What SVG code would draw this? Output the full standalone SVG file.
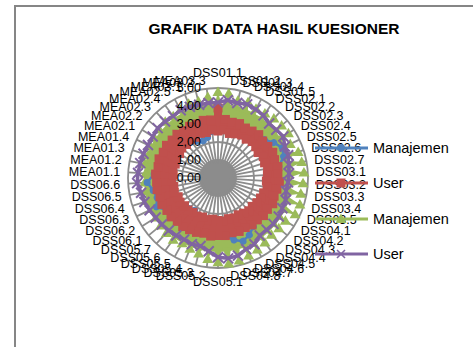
<svg xmlns="http://www.w3.org/2000/svg" xmlns:xlink="http://www.w3.org/1999/xlink" width="473" height="347" viewBox="0 0 473 347">
<style>
text{font-family:"Liberation Sans",Arial,sans-serif;fill:#000}
.lbl{font-size:12.5px}
.leg{font-size:14.5px}
.title{font-size:15.5px;font-weight:bold}
.grid{fill:none;stroke:#8c8c8c;stroke-width:1.8}
.gr circle{fill:none;stroke:#9BBB59;stroke-width:18}
.gr path{fill:#9BBB59}
.gr use{fill:#9BBB59}
.bl path{fill:none;stroke:#4F81BD;stroke-width:2.5;stroke-linecap:round}
.bl circle{fill:#4F81BD}
.rd circle{fill:none;stroke:#C0504D;stroke-width:7}
.rd path{fill:none;stroke:#C0504D;stroke-width:8}
.rd use{fill:#C0504D}
.pu path{fill:none;stroke:#8064A2;stroke-width:3.5;stroke-linecap:round}
.pu use{fill:none;stroke:#8064A2;stroke-width:2}
</style>
<defs>
<rect id="sq" x="-4.5" y="-4.5" width="9" height="9"/>
<polygon id="tri" points="0,-5.5 5.5,4 -5.5,4"/>
<path id="xm" d="M-5,-5L5,5M5,-5L-5,5"/>
<path id="xl" d="M-4,-4L4,4M4,-4L-4,4"/>
</defs>
<rect x="0" y="0" width="473" height="347" fill="#fff"/>
<rect id="frame" x="15" y="6" width="480" height="370" fill="#fff" stroke="#868686" stroke-width="2"/>
<text class="title" x="274" y="34.3" text-anchor="middle">GRAFIK DATA HASIL KUESIONER</text>
<g id="plot" transform="translate(218,178)">
<g id="grid" class="grid">
<circle r="17" fill="#8c8c8c"/>
<circle r="18"/><circle r="36"/><circle r="54"/><circle r="72"/><circle r="90"/>
<path d="M0,-90L0,90M11.28,-89.29L-11.28,89.29M22.38,-87.17L-22.38,87.17M33.13,-83.68L-33.13,83.68M43.36,-78.87L-43.36,78.87M52.9,-72.81L-52.9,72.81M61.61,-65.61L-61.61,65.61M69.35,-57.37L-69.35,57.37M75.99,-48.22L-75.99,48.22M81.43,-38.32L-81.43,38.32M85.6,-27.81L-85.6,27.81M88.41,-16.86L-88.41,16.86M89.82,-5.65L-89.82,5.65M89.82,5.65L-89.82,-5.65M88.41,16.86L-88.41,-16.86M85.6,27.81L-85.6,-27.81M81.43,38.32L-81.43,-38.32M75.99,48.22L-75.99,-48.22M69.35,57.37L-69.35,-57.37M61.61,65.61L-61.61,-65.61M52.9,72.81L-52.9,-72.81M43.36,78.87L-43.36,-78.87M33.13,83.68L-33.13,-83.68M22.38,87.17L-22.38,-87.17M11.28,89.29L-11.28,-89.29"/>
</g>
<g id="series-manajemen-2" class="gr">
<circle r="65"/>
<g transform="rotate(0)"><path d="M-4.5,-70L0,-86.1L4.5,-70Z"/><use href="#tri" transform="translate(0,-86.1) rotate(0)"/></g>
<g transform="rotate(7.2)"><path d="M-4.5,-70L0,-85.2L4.5,-70Z"/><use href="#tri" transform="translate(0,-85.2) rotate(-7.2)"/></g>
<g transform="rotate(14.4)"><path d="M-4.5,-70L0,-79.8L4.5,-70Z"/><use href="#tri" transform="translate(0,-79.8) rotate(-14.4)"/></g>
<g transform="rotate(21.6)"><path d="M-4.5,-70L0,-81.6L4.5,-70Z"/><use href="#tri" transform="translate(0,-81.6) rotate(-21.6)"/></g>
<g transform="rotate(28.8)"><path d="M-4.5,-70L0,-78.9L4.5,-70Z"/><use href="#tri" transform="translate(0,-78.9) rotate(-28.8)"/></g>
<g transform="rotate(36)"><path d="M-4.5,-70L0,-79.8L4.5,-70Z"/><use href="#tri" transform="translate(0,-79.8) rotate(-36)"/></g>
<g transform="rotate(43.2)"><path d="M-4.5,-70L0,-81.6L4.5,-70Z"/><use href="#tri" transform="translate(0,-81.6) rotate(-43.2)"/></g>
<g transform="rotate(50.4)"><path d="M-4.5,-70L0,-82.5L4.5,-70Z"/><use href="#tri" transform="translate(0,-82.5) rotate(-50.4)"/></g>
<g transform="rotate(57.6)"><path d="M-4.5,-70L0,-83.4L4.5,-70Z"/><use href="#tri" transform="translate(0,-83.4) rotate(-57.6)"/></g>
<g transform="rotate(64.8)"><path d="M-4.5,-70L0,-79.8L4.5,-70Z"/><use href="#tri" transform="translate(0,-79.8) rotate(-64.8)"/></g>
<g transform="rotate(72)"><path d="M-4.5,-70L0,-84.3L4.5,-70Z"/><use href="#tri" transform="translate(0,-84.3) rotate(-72)"/></g>
<g transform="rotate(79.2)"><path d="M-4.5,-70L0,-85.2L4.5,-70Z"/><use href="#tri" transform="translate(0,-85.2) rotate(-79.2)"/></g>
<g transform="rotate(86.4)"><path d="M-4.5,-70L0,-86.1L4.5,-70Z"/><use href="#tri" transform="translate(0,-86.1) rotate(-86.4)"/></g>
<g transform="rotate(93.6)"><path d="M-4.5,-70L0,-85.2L4.5,-70Z"/><use href="#tri" transform="translate(0,-85.2) rotate(-93.6)"/></g>
<g transform="rotate(100.8)"><path d="M-4.5,-70L0,-84.3L4.5,-70Z"/><use href="#tri" transform="translate(0,-84.3) rotate(-100.8)"/></g>
<g transform="rotate(108)"><path d="M-4.5,-70L0,-86.1L4.5,-70Z"/><use href="#tri" transform="translate(0,-86.1) rotate(-108)"/></g>
<g transform="rotate(115.2)"><path d="M-4.5,-70L0,-85.2L4.5,-70Z"/><use href="#tri" transform="translate(0,-85.2) rotate(-115.2)"/></g>
<g transform="rotate(122.4)"><path d="M-4.5,-70L0,-79.8L4.5,-70Z"/><use href="#tri" transform="translate(0,-79.8) rotate(-122.4)"/></g>
<g transform="rotate(129.6)"><path d="M-4.5,-70L0,-78.9L4.5,-70Z"/><use href="#tri" transform="translate(0,-78.9) rotate(-129.6)"/></g>
<g transform="rotate(136.8)"><path d="M-4.5,-70L0,-78L4.5,-70Z"/><use href="#tri" transform="translate(0,-78) rotate(-136.8)"/></g>
<g transform="rotate(144)"><path d="M-4.5,-70L0,-79.8L4.5,-70Z"/><use href="#tri" transform="translate(0,-79.8) rotate(-144)"/></g>
<g transform="rotate(151.2)"><path d="M-4.5,-70L0,-81.6L4.5,-70Z"/><use href="#tri" transform="translate(0,-81.6) rotate(-151.2)"/></g>
<g transform="rotate(158.4)"><path d="M-4.5,-70L0,-83.4L4.5,-70Z"/><use href="#tri" transform="translate(0,-83.4) rotate(-158.4)"/></g>
<g transform="rotate(165.6)"><path d="M-4.5,-70L0,-85.2L4.5,-70Z"/><use href="#tri" transform="translate(0,-85.2) rotate(-165.6)"/></g>
<g transform="rotate(172.8)"><path d="M-4.5,-70L0,-86.1L4.5,-70Z"/><use href="#tri" transform="translate(0,-86.1) rotate(-172.8)"/></g>
<g transform="rotate(180)"><path d="M-4.5,-70L0,-84.3L4.5,-70Z"/><use href="#tri" transform="translate(0,-84.3) rotate(-180)"/></g>
<g transform="rotate(187.2)"><path d="M-4.5,-70L0,-81.6L4.5,-70Z"/><use href="#tri" transform="translate(0,-81.6) rotate(-187.2)"/></g>
<g transform="rotate(194.4)"><path d="M-4.5,-70L0,-78L4.5,-70Z"/><use href="#tri" transform="translate(0,-78) rotate(-194.4)"/></g>
<g transform="rotate(201.6)"><path d="M-4.5,-70L0,-76.2L4.5,-70Z"/><use href="#tri" transform="translate(0,-76.2) rotate(-201.6)"/></g>
<g transform="rotate(208.8)"><path d="M-4.5,-70L0,-74.4L4.5,-70Z"/><use href="#tri" transform="translate(0,-74.4) rotate(-208.8)"/></g>
<g transform="rotate(216)"><path d="M-4.5,-70L0,-76.2L4.5,-70Z"/><use href="#tri" transform="translate(0,-76.2) rotate(-216)"/></g>
<g transform="rotate(223.2)"><path d="M-4.5,-70L0,-75.3L4.5,-70Z"/><use href="#tri" transform="translate(0,-75.3) rotate(-223.2)"/></g>
<g transform="rotate(230.4)"><path d="M-4.5,-70L0,-74.4L4.5,-70Z"/><use href="#tri" transform="translate(0,-74.4) rotate(-230.4)"/></g>
<g transform="rotate(237.6)"><path d="M-4.5,-70L0,-73.5L4.5,-70Z"/><use href="#tri" transform="translate(0,-73.5) rotate(-237.6)"/></g>
<g transform="rotate(244.8)"><path d="M-4.5,-70L0,-72.6L4.5,-70Z"/><use href="#tri" transform="translate(0,-72.6) rotate(-244.8)"/></g>
<g transform="rotate(252)"><path d="M-4.5,-70L0,-74.4L4.5,-70Z"/><use href="#tri" transform="translate(0,-74.4) rotate(-252)"/></g>
<g transform="rotate(259.2)"><path d="M-4.5,-70L0,-72.6L4.5,-70Z"/><use href="#tri" transform="translate(0,-72.6) rotate(-259.2)"/></g>
<g transform="rotate(266.4)"><path d="M-4.5,-70L0,-73.5L4.5,-70Z"/><use href="#tri" transform="translate(0,-73.5) rotate(-266.4)"/></g>
<g transform="rotate(273.6)"><path d="M-4.5,-70L0,-72.6L4.5,-70Z"/><use href="#tri" transform="translate(0,-72.6) rotate(-273.6)"/></g>
<g transform="rotate(280.8)"><path d="M-4.5,-70L0,-74.4L4.5,-70Z"/><use href="#tri" transform="translate(0,-74.4) rotate(-280.8)"/></g>
<g transform="rotate(288)"><path d="M-4.5,-70L0,-73.5L4.5,-70Z"/><use href="#tri" transform="translate(0,-73.5) rotate(-288)"/></g>
<g transform="rotate(295.2)"><path d="M-4.5,-70L0,-74.4L4.5,-70Z"/><use href="#tri" transform="translate(0,-74.4) rotate(-295.2)"/></g>
<g transform="rotate(302.4)"><path d="M-4.5,-70L0,-75.3L4.5,-70Z"/><use href="#tri" transform="translate(0,-75.3) rotate(-302.4)"/></g>
<g transform="rotate(309.6)"><path d="M-4.5,-70L0,-76.2L4.5,-70Z"/><use href="#tri" transform="translate(0,-76.2) rotate(-309.6)"/></g>
<g transform="rotate(316.8)"><path d="M-4.5,-70L0,-77.1L4.5,-70Z"/><use href="#tri" transform="translate(0,-77.1) rotate(-316.8)"/></g>
<g transform="rotate(324)"><path d="M-4.5,-70L0,-76.2L4.5,-70Z"/><use href="#tri" transform="translate(0,-76.2) rotate(-324)"/></g>
<g transform="rotate(331.2)"><path d="M-4.5,-70L0,-78L4.5,-70Z"/><use href="#tri" transform="translate(0,-78) rotate(-331.2)"/></g>
<g transform="rotate(338.4)"><path d="M-4.5,-70L0,-79.8L4.5,-70Z"/><use href="#tri" transform="translate(0,-79.8) rotate(-338.4)"/></g>
<g transform="rotate(345.6)"><path d="M-4.5,-70L0,-78.9L4.5,-70Z"/><use href="#tri" transform="translate(0,-78.9) rotate(-345.6)"/></g>
<g transform="rotate(352.8)"><path d="M-4.5,-70L0,-81.6L4.5,-70Z"/><use href="#tri" transform="translate(0,-81.6) rotate(-352.8)"/></g>
</g>
<g id="series-manajemen-1" class="bl">
<g transform="rotate(0)"><path d="M0,-52L6.64,-52.58"/><circle cy="-52" r="3.5"/></g>
<g transform="rotate(7.2)"><path d="M0,-53L6.52,-51.59"/><circle cy="-53" r="3.5"/></g>
<g transform="rotate(14.4)"><path d="M0,-52L6.77,-53.57"/><circle cy="-52" r="3.5"/></g>
<g transform="rotate(21.6)"><path d="M0,-54L6.64,-52.58"/><circle cy="-54" r="3.5"/></g>
<g transform="rotate(28.8)"><path d="M0,-53L6.77,-53.57"/><circle cy="-53" r="3.5"/></g>
<g transform="rotate(36)"><path d="M0,-54L6.89,-54.57"/><circle cy="-54" r="3.5"/></g>
<g transform="rotate(43.2)"><path d="M0,-55L7.52,-59.53"/><circle cy="-55" r="3.5"/></g>
<g transform="rotate(50.4)"><path d="M0,-60L8.27,-65.48"/><circle cy="-60" r="3.5"/></g>
<g transform="rotate(57.6)"><path d="M0,-66L8.9,-70.44"/><circle cy="-66" r="3.5"/></g>
<g transform="rotate(64.8)"><path d="M0,-71L8.65,-68.46"/><circle cy="-71" r="3.5"/></g>
<g transform="rotate(72)"><path d="M0,-69L7.77,-61.51"/><circle cy="-69" r="3.5"/></g>
<g transform="rotate(79.2)"><path d="M0,-62L6.89,-54.57"/><circle cy="-62" r="3.5"/></g>
<g transform="rotate(86.4)"><path d="M0,-55L6.77,-53.57"/><circle cy="-55" r="3.5"/></g>
<g transform="rotate(93.6)"><path d="M0,-54L6.89,-54.57"/><circle cy="-54" r="3.5"/></g>
<g transform="rotate(100.8)"><path d="M0,-55L6.77,-53.57"/><circle cy="-55" r="3.5"/></g>
<g transform="rotate(108)"><path d="M0,-54L7.02,-55.56"/><circle cy="-54" r="3.5"/></g>
<g transform="rotate(115.2)"><path d="M0,-56L6.89,-54.57"/><circle cy="-56" r="3.5"/></g>
<g transform="rotate(122.4)"><path d="M0,-55L6.77,-53.57"/><circle cy="-55" r="3.5"/></g>
<g transform="rotate(129.6)"><path d="M0,-54L7.02,-55.56"/><circle cy="-54" r="3.5"/></g>
<g transform="rotate(136.8)"><path d="M0,-56L7.52,-59.53"/><circle cy="-56" r="3.5"/></g>
<g transform="rotate(144)"><path d="M0,-60L8.15,-64.49"/><circle cy="-60" r="3.5"/></g>
<g transform="rotate(151.2)"><path d="M0,-65L8.52,-67.46"/><circle cy="-65" r="3.5"/></g>
<g transform="rotate(158.4)"><path d="M0,-68L8.02,-63.5"/><circle cy="-68" r="3.5"/></g>
<g transform="rotate(165.6)"><path d="M0,-64L7.27,-57.54"/><circle cy="-64" r="3.5"/></g>
<g transform="rotate(172.8)"><path d="M0,-58L6.77,-53.57"/><circle cy="-58" r="3.5"/></g>
<g transform="rotate(180)"><path d="M0,-54L6.52,-51.59"/><circle cy="-54" r="3.5"/></g>
<g transform="rotate(187.2)"><path d="M0,-52L6.27,-49.61"/><circle cy="-52" r="3.5"/></g>
<g transform="rotate(194.4)"><path d="M0,-50L5.89,-46.63"/><circle cy="-50" r="3.5"/></g>
<g transform="rotate(201.6)"><path d="M0,-47L5.51,-43.65"/><circle cy="-47" r="3.5"/></g>
<g transform="rotate(208.8)"><path d="M0,-44L5.01,-39.68"/><circle cy="-44" r="3.5"/></g>
<g transform="rotate(216)"><path d="M0,-40L5.26,-41.67"/><circle cy="-40" r="3.5"/></g>
<g transform="rotate(223.2)"><path d="M0,-42L6.27,-49.61"/><circle cy="-42" r="3.5"/></g>
<g transform="rotate(230.4)"><path d="M0,-50L7.52,-59.53"/><circle cy="-50" r="3.5"/></g>
<g transform="rotate(237.6)"><path d="M0,-60L8.52,-67.46"/><circle cy="-60" r="3.5"/></g>
<g transform="rotate(244.8)"><path d="M0,-68L8.02,-63.5"/><circle cy="-68" r="3.5"/></g>
<g transform="rotate(252)"><path d="M0,-64L8.27,-65.48"/><circle cy="-64" r="3.5"/></g>
<g transform="rotate(259.2)"><path d="M0,-66L8.9,-70.44"/><circle cy="-66" r="3.5"/></g>
<g transform="rotate(266.4)"><path d="M0,-71L8.02,-63.5"/><circle cy="-71" r="3.5"/></g>
<g transform="rotate(273.6)"><path d="M0,-64L7.27,-57.54"/><circle cy="-64" r="3.5"/></g>
<g transform="rotate(280.8)"><path d="M0,-58L6.89,-54.57"/><circle cy="-58" r="3.5"/></g>
<g transform="rotate(288)"><path d="M0,-55L6.64,-52.58"/><circle cy="-55" r="3.5"/></g>
<g transform="rotate(295.2)"><path d="M0,-53L6.52,-51.59"/><circle cy="-53" r="3.5"/></g>
<g transform="rotate(302.4)"><path d="M0,-52L6.27,-49.61"/><circle cy="-52" r="3.5"/></g>
<g transform="rotate(309.6)"><path d="M0,-50L6.02,-47.62"/><circle cy="-50" r="3.5"/></g>
<g transform="rotate(316.8)"><path d="M0,-48L5.64,-44.64"/><circle cy="-48" r="3.5"/></g>
<g transform="rotate(324)"><path d="M0,-45L5.26,-41.67"/><circle cy="-45" r="3.5"/></g>
<g transform="rotate(331.2)"><path d="M0,-42L5.01,-39.68"/><circle cy="-42" r="3.5"/></g>
<g transform="rotate(338.4)"><path d="M0,-40L5.26,-41.67"/><circle cy="-40" r="3.5"/></g>
<g transform="rotate(345.6)"><path d="M0,-42L5.89,-46.63"/><circle cy="-42" r="3.5"/></g>
<g transform="rotate(352.8)"><path d="M0,-47L6.52,-51.59"/><circle cy="-47" r="3.5"/></g>
</g>
<g id="series-user-1" class="rd">
<circle r="53.5"/>
<g transform="rotate(0)"><path d="M0,-47V-70"/><use href="#sq" transform="translate(0,-47) rotate(0)"/><use href="#sq" transform="translate(0,-70) rotate(0)"/></g>
<g transform="rotate(7.2)"><path d="M0,-48.5V-59"/><use href="#sq" transform="translate(0,-48.5) rotate(-7.2)"/><use href="#sq" transform="translate(0,-59) rotate(-7.2)"/></g>
<g transform="rotate(14.4)"><path d="M0,-46V-57.5"/><use href="#sq" transform="translate(0,-46) rotate(-14.4)"/><use href="#sq" transform="translate(0,-57.5) rotate(-14.4)"/></g>
<g transform="rotate(21.6)"><path d="M0,-47.5V-58.5"/><use href="#sq" transform="translate(0,-47.5) rotate(-21.6)"/><use href="#sq" transform="translate(0,-58.5) rotate(-21.6)"/></g>
<g transform="rotate(28.8)"><path d="M0,-49V-57"/><use href="#sq" transform="translate(0,-49) rotate(-28.8)"/><use href="#sq" transform="translate(0,-57) rotate(-28.8)"/></g>
<g transform="rotate(36)"><path d="M0,-48V-58"/><use href="#sq" transform="translate(0,-48) rotate(-36)"/><use href="#sq" transform="translate(0,-58) rotate(-36)"/></g>
<g transform="rotate(43.2)"><path d="M0,-50V-59.5"/><use href="#sq" transform="translate(0,-50) rotate(-43.2)"/><use href="#sq" transform="translate(0,-59.5) rotate(-43.2)"/></g>
<g transform="rotate(50.4)"><path d="M0,-49V-58"/><use href="#sq" transform="translate(0,-49) rotate(-50.4)"/><use href="#sq" transform="translate(0,-58) rotate(-50.4)"/></g>
<g transform="rotate(57.6)"><path d="M0,-47.5V-59"/><use href="#sq" transform="translate(0,-47.5) rotate(-57.6)"/><use href="#sq" transform="translate(0,-59) rotate(-57.6)"/></g>
<g transform="rotate(64.8)"><path d="M0,-50V-60.5"/><use href="#sq" transform="translate(0,-50) rotate(-64.8)"/><use href="#sq" transform="translate(0,-60.5) rotate(-64.8)"/></g>
<g transform="rotate(72)"><path d="M0,-49V-59.5"/><use href="#sq" transform="translate(0,-49) rotate(-72)"/><use href="#sq" transform="translate(0,-59.5) rotate(-72)"/></g>
<g transform="rotate(79.2)"><path d="M0,-50.5V-61"/><use href="#sq" transform="translate(0,-50.5) rotate(-79.2)"/><use href="#sq" transform="translate(0,-61) rotate(-79.2)"/></g>
<g transform="rotate(86.4)"><path d="M0,-49.5V-60"/><use href="#sq" transform="translate(0,-49.5) rotate(-86.4)"/><use href="#sq" transform="translate(0,-60) rotate(-86.4)"/></g>
<g transform="rotate(93.6)"><path d="M0,-48.5V-61.5"/><use href="#sq" transform="translate(0,-48.5) rotate(-93.6)"/><use href="#sq" transform="translate(0,-61.5) rotate(-93.6)"/></g>
<g transform="rotate(100.8)"><path d="M0,-50V-60"/><use href="#sq" transform="translate(0,-50) rotate(-100.8)"/><use href="#sq" transform="translate(0,-60) rotate(-100.8)"/></g>
<g transform="rotate(108)"><path d="M0,-48V-59"/><use href="#sq" transform="translate(0,-48) rotate(-108)"/><use href="#sq" transform="translate(0,-59) rotate(-108)"/></g>
<g transform="rotate(115.2)"><path d="M0,-47V-60.5"/><use href="#sq" transform="translate(0,-47) rotate(-115.2)"/><use href="#sq" transform="translate(0,-60.5) rotate(-115.2)"/></g>
<g transform="rotate(122.4)"><path d="M0,-46V-58.5"/><use href="#sq" transform="translate(0,-46) rotate(-122.4)"/><use href="#sq" transform="translate(0,-58.5) rotate(-122.4)"/></g>
<g transform="rotate(129.6)"><path d="M0,-44.5V-59"/><use href="#sq" transform="translate(0,-44.5) rotate(-129.6)"/><use href="#sq" transform="translate(0,-59) rotate(-129.6)"/></g>
<g transform="rotate(136.8)"><path d="M0,-45V-57.5"/><use href="#sq" transform="translate(0,-45) rotate(-136.8)"/><use href="#sq" transform="translate(0,-57.5) rotate(-136.8)"/></g>
<g transform="rotate(144)"><path d="M0,-43.5V-58"/><use href="#sq" transform="translate(0,-43.5) rotate(-144)"/><use href="#sq" transform="translate(0,-58) rotate(-144)"/></g>
<g transform="rotate(151.2)"><path d="M0,-42V-56.5"/><use href="#sq" transform="translate(0,-42) rotate(-151.2)"/><use href="#sq" transform="translate(0,-56.5) rotate(-151.2)"/></g>
<g transform="rotate(158.4)"><path d="M0,-43V-57.5"/><use href="#sq" transform="translate(0,-43) rotate(-158.4)"/><use href="#sq" transform="translate(0,-57.5) rotate(-158.4)"/></g>
<g transform="rotate(165.6)"><path d="M0,-42V-56.5"/><use href="#sq" transform="translate(0,-42) rotate(-165.6)"/><use href="#sq" transform="translate(0,-56.5) rotate(-165.6)"/></g>
<g transform="rotate(172.8)"><path d="M0,-43.5V-58"/><use href="#sq" transform="translate(0,-43.5) rotate(-172.8)"/><use href="#sq" transform="translate(0,-58) rotate(-172.8)"/></g>
<g transform="rotate(180)"><path d="M0,-42.5V-57.5"/><use href="#sq" transform="translate(0,-42.5) rotate(-180)"/><use href="#sq" transform="translate(0,-57.5) rotate(-180)"/></g>
<g transform="rotate(187.2)"><path d="M0,-41.5V-58.5"/><use href="#sq" transform="translate(0,-41.5) rotate(-187.2)"/><use href="#sq" transform="translate(0,-58.5) rotate(-187.2)"/></g>
<g transform="rotate(194.4)"><path d="M0,-43V-57"/><use href="#sq" transform="translate(0,-43) rotate(-194.4)"/><use href="#sq" transform="translate(0,-57) rotate(-194.4)"/></g>
<g transform="rotate(201.6)"><path d="M0,-42V-58.5"/><use href="#sq" transform="translate(0,-42) rotate(-201.6)"/><use href="#sq" transform="translate(0,-58.5) rotate(-201.6)"/></g>
<g transform="rotate(208.8)"><path d="M0,-43.5V-59"/><use href="#sq" transform="translate(0,-43.5) rotate(-208.8)"/><use href="#sq" transform="translate(0,-59) rotate(-208.8)"/></g>
<g transform="rotate(216)"><path d="M0,-42.5V-60"/><use href="#sq" transform="translate(0,-42.5) rotate(-216)"/><use href="#sq" transform="translate(0,-60) rotate(-216)"/></g>
<g transform="rotate(223.2)"><path d="M0,-44V-59.5"/><use href="#sq" transform="translate(0,-44) rotate(-223.2)"/><use href="#sq" transform="translate(0,-59.5) rotate(-223.2)"/></g>
<g transform="rotate(230.4)"><path d="M0,-43.5V-61"/><use href="#sq" transform="translate(0,-43.5) rotate(-230.4)"/><use href="#sq" transform="translate(0,-61) rotate(-230.4)"/></g>
<g transform="rotate(237.6)"><path d="M0,-45V-60.5"/><use href="#sq" transform="translate(0,-45) rotate(-237.6)"/><use href="#sq" transform="translate(0,-60.5) rotate(-237.6)"/></g>
<g transform="rotate(244.8)"><path d="M0,-44V-62"/><use href="#sq" transform="translate(0,-44) rotate(-244.8)"/><use href="#sq" transform="translate(0,-62) rotate(-244.8)"/></g>
<g transform="rotate(252)"><path d="M0,-46V-61"/><use href="#sq" transform="translate(0,-46) rotate(-252)"/><use href="#sq" transform="translate(0,-61) rotate(-252)"/></g>
<g transform="rotate(259.2)"><path d="M0,-45V-62"/><use href="#sq" transform="translate(0,-45) rotate(-259.2)"/><use href="#sq" transform="translate(0,-62) rotate(-259.2)"/></g>
<g transform="rotate(266.4)"><path d="M0,-46.5V-61.5"/><use href="#sq" transform="translate(0,-46.5) rotate(-266.4)"/><use href="#sq" transform="translate(0,-61.5) rotate(-266.4)"/></g>
<g transform="rotate(273.6)"><path d="M0,-45V-62.5"/><use href="#sq" transform="translate(0,-45) rotate(-273.6)"/><use href="#sq" transform="translate(0,-62.5) rotate(-273.6)"/></g>
<g transform="rotate(280.8)"><path d="M0,-46V-61"/><use href="#sq" transform="translate(0,-46) rotate(-280.8)"/><use href="#sq" transform="translate(0,-61) rotate(-280.8)"/></g>
<g transform="rotate(288)"><path d="M0,-45V-62"/><use href="#sq" transform="translate(0,-45) rotate(-288)"/><use href="#sq" transform="translate(0,-62) rotate(-288)"/></g>
<g transform="rotate(295.2)"><path d="M0,-46.5V-60.5"/><use href="#sq" transform="translate(0,-46.5) rotate(-295.2)"/><use href="#sq" transform="translate(0,-60.5) rotate(-295.2)"/></g>
<g transform="rotate(302.4)"><path d="M0,-45.5V-61"/><use href="#sq" transform="translate(0,-45.5) rotate(-302.4)"/><use href="#sq" transform="translate(0,-61) rotate(-302.4)"/></g>
<g transform="rotate(309.6)"><path d="M0,-47V-59.5"/><use href="#sq" transform="translate(0,-47) rotate(-309.6)"/><use href="#sq" transform="translate(0,-59.5) rotate(-309.6)"/></g>
<g transform="rotate(316.8)"><path d="M0,-46V-60"/><use href="#sq" transform="translate(0,-46) rotate(-316.8)"/><use href="#sq" transform="translate(0,-60) rotate(-316.8)"/></g>
<g transform="rotate(324)"><path d="M0,-47.5V-58.5"/><use href="#sq" transform="translate(0,-47.5) rotate(-324)"/><use href="#sq" transform="translate(0,-58.5) rotate(-324)"/></g>
<g transform="rotate(331.2)"><path d="M0,-46.5V-59"/><use href="#sq" transform="translate(0,-46.5) rotate(-331.2)"/><use href="#sq" transform="translate(0,-59) rotate(-331.2)"/></g>
<g transform="rotate(338.4)"><path d="M0,-48V-58"/><use href="#sq" transform="translate(0,-48) rotate(-338.4)"/><use href="#sq" transform="translate(0,-58) rotate(-338.4)"/></g>
<g transform="rotate(345.6)"><path d="M0,-47V-59.5"/><use href="#sq" transform="translate(0,-47) rotate(-345.6)"/><use href="#sq" transform="translate(0,-59.5) rotate(-345.6)"/></g>
<g transform="rotate(352.8)"><path d="M0,-48.5V-58.5"/><use href="#sq" transform="translate(0,-48.5) rotate(-352.8)"/><use href="#sq" transform="translate(0,-58.5) rotate(-352.8)"/></g>
</g>
<g id="series-user-2" class="pu">
<g transform="rotate(0)"><path d="M0,-75.6L9.81,-77.68"/><use href="#xm" transform="translate(0,-75.6) rotate(0)"/></g>
<g transform="rotate(7.2)"><path d="M0,-78.3L9.7,-76.79"/><use href="#xm" transform="translate(0,-78.3) rotate(-7.2)"/></g>
<g transform="rotate(14.4)"><path d="M0,-77.4L9.93,-78.58"/><use href="#xm" transform="translate(0,-77.4) rotate(-14.4)"/></g>
<g transform="rotate(21.6)"><path d="M0,-79.2L9.81,-77.68"/><use href="#xm" transform="translate(0,-79.2) rotate(-21.6)"/></g>
<g transform="rotate(28.8)"><path d="M0,-78.3L9.7,-76.79"/><use href="#xm" transform="translate(0,-78.3) rotate(-28.8)"/></g>
<g transform="rotate(36)"><path d="M0,-77.4L9.36,-74.11"/><use href="#xm" transform="translate(0,-77.4) rotate(-36)"/></g>
<g transform="rotate(43.2)"><path d="M0,-74.7L9.48,-75"/><use href="#xm" transform="translate(0,-74.7) rotate(-43.2)"/></g>
<g transform="rotate(50.4)"><path d="M0,-75.6L9.7,-76.79"/><use href="#xm" transform="translate(0,-75.6) rotate(-50.4)"/></g>
<g transform="rotate(57.6)"><path d="M0,-77.4L9.25,-73.22"/><use href="#xm" transform="translate(0,-77.4) rotate(-57.6)"/></g>
<g transform="rotate(64.8)"><path d="M0,-73.8L9.25,-73.22"/><use href="#xm" transform="translate(0,-73.8) rotate(-64.8)"/></g>
<g transform="rotate(72)"><path d="M0,-73.8L9.02,-71.43"/><use href="#xm" transform="translate(0,-73.8) rotate(-72)"/></g>
<g transform="rotate(79.2)"><path d="M0,-72L8.91,-70.54"/><use href="#xm" transform="translate(0,-72) rotate(-79.2)"/></g>
<g transform="rotate(86.4)"><path d="M0,-71.1L8.8,-69.65"/><use href="#xm" transform="translate(0,-71.1) rotate(-86.4)"/></g>
<g transform="rotate(93.6)"><path d="M0,-70.2L8.69,-68.75"/><use href="#xm" transform="translate(0,-70.2) rotate(-93.6)"/></g>
<g transform="rotate(100.8)"><path d="M0,-69.3L8.91,-70.54"/><use href="#xm" transform="translate(0,-69.3) rotate(-100.8)"/></g>
<g transform="rotate(108)"><path d="M0,-71.1L8.91,-70.54"/><use href="#xm" transform="translate(0,-71.1) rotate(-108)"/></g>
<g transform="rotate(115.2)"><path d="M0,-71.1L9.02,-71.43"/><use href="#xm" transform="translate(0,-71.1) rotate(-115.2)"/></g>
<g transform="rotate(122.4)"><path d="M0,-72L9.02,-71.43"/><use href="#xm" transform="translate(0,-72) rotate(-122.4)"/></g>
<g transform="rotate(129.6)"><path d="M0,-72L8.91,-70.54"/><use href="#xm" transform="translate(0,-72) rotate(-129.6)"/></g>
<g transform="rotate(136.8)"><path d="M0,-71.1L8.91,-70.54"/><use href="#xm" transform="translate(0,-71.1) rotate(-136.8)"/></g>
<g transform="rotate(144)"><path d="M0,-71.1L9.48,-75"/><use href="#xm" transform="translate(0,-71.1) rotate(-144)"/></g>
<g transform="rotate(151.2)"><path d="M0,-75.6L9.59,-75.9"/><use href="#xm" transform="translate(0,-75.6) rotate(-151.2)"/></g>
<g transform="rotate(158.4)"><path d="M0,-76.5L10.04,-79.47"/><use href="#xm" transform="translate(0,-76.5) rotate(-158.4)"/></g>
<g transform="rotate(165.6)"><path d="M0,-80.1L10.15,-80.36"/><use href="#xm" transform="translate(0,-80.1) rotate(-165.6)"/></g>
<g transform="rotate(172.8)"><path d="M0,-81L9.93,-78.58"/><use href="#xm" transform="translate(0,-81) rotate(-172.8)"/></g>
<g transform="rotate(180)"><path d="M0,-79.2L9.25,-73.22"/><use href="#xm" transform="translate(0,-79.2) rotate(-180)"/></g>
<g transform="rotate(187.2)"><path d="M0,-73.8L8.8,-69.65"/><use href="#xm" transform="translate(0,-73.8) rotate(-187.2)"/></g>
<g transform="rotate(194.4)"><path d="M0,-70.2L8.91,-70.54"/><use href="#xm" transform="translate(0,-70.2) rotate(-194.4)"/></g>
<g transform="rotate(201.6)"><path d="M0,-71.1L8.8,-69.65"/><use href="#xm" transform="translate(0,-71.1) rotate(-201.6)"/></g>
<g transform="rotate(208.8)"><path d="M0,-70.2L8.91,-70.54"/><use href="#xm" transform="translate(0,-70.2) rotate(-208.8)"/></g>
<g transform="rotate(216)"><path d="M0,-71.1L9.02,-71.43"/><use href="#xm" transform="translate(0,-71.1) rotate(-216)"/></g>
<g transform="rotate(223.2)"><path d="M0,-72L9.14,-72.32"/><use href="#xm" transform="translate(0,-72) rotate(-223.2)"/></g>
<g transform="rotate(230.4)"><path d="M0,-72.9L9.25,-73.22"/><use href="#xm" transform="translate(0,-72.9) rotate(-230.4)"/></g>
<g transform="rotate(237.6)"><path d="M0,-73.8L9.48,-75"/><use href="#xm" transform="translate(0,-73.8) rotate(-237.6)"/></g>
<g transform="rotate(244.8)"><path d="M0,-75.6L9.7,-76.79"/><use href="#xm" transform="translate(0,-75.6) rotate(-244.8)"/></g>
<g transform="rotate(252)"><path d="M0,-77.4L9.81,-77.68"/><use href="#xm" transform="translate(0,-77.4) rotate(-252)"/></g>
<g transform="rotate(259.2)"><path d="M0,-78.3L10.15,-80.36"/><use href="#xm" transform="translate(0,-78.3) rotate(-259.2)"/></g>
<g transform="rotate(266.4)"><path d="M0,-81L10.04,-79.47"/><use href="#xm" transform="translate(0,-81) rotate(-266.4)"/></g>
<g transform="rotate(273.6)"><path d="M0,-80.1L9.93,-78.58"/><use href="#xm" transform="translate(0,-80.1) rotate(-273.6)"/></g>
<g transform="rotate(280.8)"><path d="M0,-79.2L9.81,-77.68"/><use href="#xm" transform="translate(0,-79.2) rotate(-280.8)"/></g>
<g transform="rotate(288)"><path d="M0,-78.3L9.7,-76.79"/><use href="#xm" transform="translate(0,-78.3) rotate(-288)"/></g>
<g transform="rotate(295.2)"><path d="M0,-77.4L9.7,-76.79"/><use href="#xm" transform="translate(0,-77.4) rotate(-295.2)"/></g>
<g transform="rotate(302.4)"><path d="M0,-77.4L9.81,-77.68"/><use href="#xm" transform="translate(0,-77.4) rotate(-302.4)"/></g>
<g transform="rotate(309.6)"><path d="M0,-78.3L9.7,-76.79"/><use href="#xm" transform="translate(0,-78.3) rotate(-309.6)"/></g>
<g transform="rotate(316.8)"><path d="M0,-77.4L9.59,-75.9"/><use href="#xm" transform="translate(0,-77.4) rotate(-316.8)"/></g>
<g transform="rotate(324)"><path d="M0,-76.5L9.7,-76.79"/><use href="#xm" transform="translate(0,-76.5) rotate(-324)"/></g>
<g transform="rotate(331.2)"><path d="M0,-77.4L9.59,-75.9"/><use href="#xm" transform="translate(0,-77.4) rotate(-331.2)"/></g>
<g transform="rotate(338.4)"><path d="M0,-76.5L9.48,-75"/><use href="#xm" transform="translate(0,-76.5) rotate(-338.4)"/></g>
<g transform="rotate(345.6)"><path d="M0,-75.6L9.48,-75"/><use href="#xm" transform="translate(0,-75.6) rotate(-345.6)"/></g>
<g transform="rotate(352.8)"><path d="M0,-75.6L9.48,-75"/><use href="#xm" transform="translate(0,-75.6) rotate(-352.8)"/></g>
</g>
</g>
<g id="value-labels" class="lbl" text-anchor="end">
<text x="201" y="182.3">0,00</text>
<text x="201" y="164.3">1,00</text>
<text x="201" y="146.3">2,00</text>
<text x="201" y="128.3">3,00</text>
<text x="201" y="110.3">4,00</text>
<text x="201" y="92.3">5,00</text>
</g>
<g id="category-labels" class="lbl">
<text x="218" y="77" text-anchor="middle">DSS01.1</text>
<text x="218" y="285.5" text-anchor="middle">DSS05.1</text>
<g text-anchor="start">
<text x="230.3" y="85.1">DSS01.2</text>
<text x="242.4" y="87.4">DSS01.3</text>
<text x="254.1" y="91.2">DSS01.4</text>
<text x="265.2" y="96.4">DSS01.5</text>
<text x="275.6" y="103">DSS02.1</text>
<text x="285.1" y="110.9">DSS02.2</text>
<text x="293.5" y="119.8">DSS02.3</text>
<text x="300.7" y="129.8">DSS02.4</text>
<text x="306.7" y="140.6">DSS02.5</text>
<text x="311.2" y="152">DSS02.6</text>
<text x="314.3" y="163.9">DSS02.7</text>
<text x="315.8" y="176.2">DSS03.1</text>
<text x="315.8" y="188.5">DSS03.2</text>
<text x="314.3" y="200.7">DSS03.3</text>
<text x="311.2" y="212.6">DSS03.4</text>
<text x="306.7" y="224">DSS03.5</text>
<text x="300.7" y="234.8">DSS04.1</text>
<text x="293.5" y="244.8">DSS04.2</text>
<text x="285.1" y="253.7">DSS04.3</text>
<text x="275.6" y="261.6">DSS04.4</text>
<text x="265.2" y="268.2">DSS04.5</text>
<text x="254.1" y="273.4">DSS04.6</text>
<text x="242.4" y="277.2">DSS04.7</text>
<text x="230.3" y="279.5">DSS04.8</text>
</g>
<g text-anchor="end">
<text x="205.7" y="279.5">DSS05.2</text>
<text x="193.6" y="277.2">DSS05.3</text>
<text x="181.9" y="273.4">DSS05.4</text>
<text x="170.8" y="268.2">DSS05.5</text>
<text x="160.4" y="261.6">DSS05.6</text>
<text x="150.9" y="253.7">DSS05.7</text>
<text x="142.5" y="244.8">DSS06.1</text>
<text x="135.3" y="234.8">DSS06.2</text>
<text x="129.3" y="224">DSS06.3</text>
<text x="124.8" y="212.6">DSS06.4</text>
<text x="121.7" y="200.7">DSS06.5</text>
<text x="120.2" y="188.5">DSS06.6</text>
<text x="120.2" y="176.2">MEA01.1</text>
<text x="121.7" y="163.9">MEA01.2</text>
<text x="124.8" y="152">MEA01.3</text>
<text x="129.3" y="140.6">MEA01.4</text>
<text x="135.3" y="129.8">MEA02.1</text>
<text x="142.5" y="119.8">MEA02.2</text>
<text x="150.9" y="110.9">MEA02.3</text>
<text x="160.4" y="103">MEA02.4</text>
<text x="170.8" y="96.4">MEA02.5</text>
<text x="181.9" y="91.2">MEA03.1</text>
<text x="193.6" y="87.4">MEA03.2</text>
<text x="205.7" y="85.1">MEA03.3</text>
</g>
</g>
<g id="legend">
<g id="legend-manajemen-1"><line x1="315" y1="148" x2="368" y2="148" stroke="#4F81BD" stroke-width="3"/><circle cx="341" cy="148" r="4" fill="#4F81BD"/><text class="leg" x="373" y="153.3">Manajemen</text></g>
<g id="legend-user-1"><line x1="315" y1="183" x2="368" y2="183" stroke="#C0504D" stroke-width="3"/><use href="#sq" transform="translate(341,183)" fill="#C0504D"/><text class="leg" x="373" y="188">User</text></g>
<g id="legend-manajemen-2"><line x1="315" y1="219" x2="368" y2="219" stroke="#9BBB59" stroke-width="3"/><use href="#tri" transform="translate(341,219)" fill="#9BBB59"/><text class="leg" x="373" y="224.3">Manajemen</text></g>
<g id="legend-user-2"><line x1="315" y1="254" x2="368" y2="254" stroke="#8064A2" stroke-width="3"/><use href="#xl" transform="translate(341,254)" fill="none" stroke="#8064A2" stroke-width="1.6"/><text class="leg" x="373" y="259.3">User</text></g>
</g>
</svg>
